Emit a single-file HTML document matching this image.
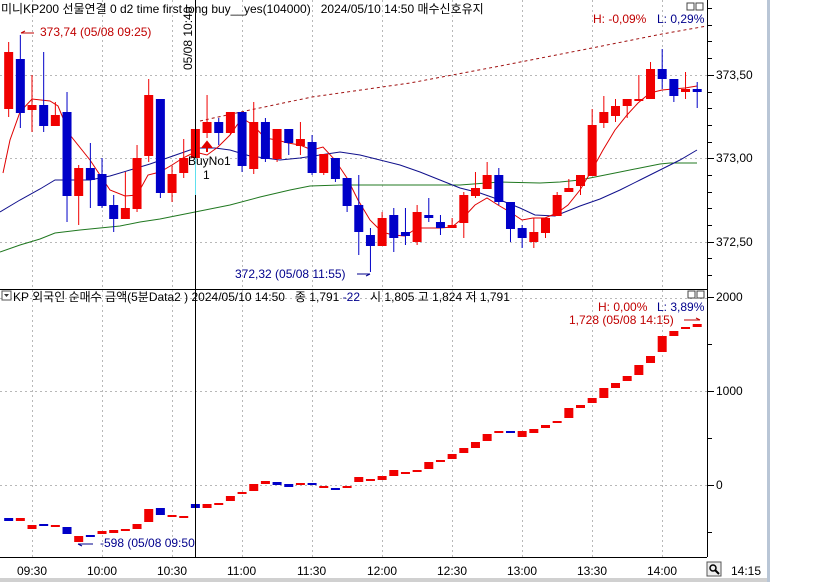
<!DOCTYPE html>
<html><head><meta charset="utf-8"><style>
html,body{margin:0;padding:0;background:#fff;width:819px;height:582px;overflow:hidden}
svg{display:block;font-family:"Liberation Sans","Noto Sans CJK KR",sans-serif;font-size:12px}
text{white-space:pre}
</style></head><body>
<svg id="s" width="819" height="582" viewBox="0 0 819 582" xmlns="http://www.w3.org/2000/svg">
<rect x="0" y="0" width="819" height="582" fill="#fff"/>
<g id="grid" stroke="#b8b8b8" stroke-dasharray="2,3" stroke-width="1"></g>
<g id="ma" fill="none" stroke-width="1"></g>
<g id="c1"></g>
<g id="c2"></g>
<line x1="707.5" y1="0" x2="707.5" y2="557" stroke="#000"/>
<line x1="0" y1="289.5" x2="707" y2="289.5" stroke="#000"/>
<line x1="0" y1="557.5" x2="707" y2="557.5" stroke="#000"/>
<line x1="195.5" y1="0" x2="195.5" y2="557" stroke="#000"/>
<line x1="195.5" y1="158" x2="195.5" y2="195" stroke="#5ee0ee" stroke-width="1"/>
<g id="ticks" stroke="#000"></g>
<rect x="767" y="0" width="3" height="582" fill="#b9c6d6"/>
<rect x="0" y="578" width="767" height="4" fill="#d0d0d0"/>
<text x="1" y="13" fill="#000">미니KP200 선물연결 0 d2 time first long buy__yes(104000)   2024/05/10 14:50 매수신호유지</text>
<text transform="translate(192,70) rotate(-90)" fill="#000">05/08 10:40</text>
<text x="40" y="36" fill="#c00000">373,74 (05/08 09:25)</text>
<path d="M21 33 H34 M21 33 l4 -2" stroke="#c00000" fill="none"/>
<text x="593" y="23" fill="#c00000">H: -0,09%</text>
<text x="657" y="23" fill="#00008c">L: 0,29%</text>
<rect x="687" y="3" width="7" height="7" fill="#fff" stroke="#444"/><rect x="696" y="3" width="7" height="7" fill="#fff" stroke="#444"/>
<text x="235" y="278" fill="#00008c">372,32 (05/08 11:55)</text>
<path d="M357 274 H370 M370 274 l-4 2" stroke="#00008c" fill="none"/>
<text x="188" y="165" fill="#000">BuyNo1</text>
<text x="203" y="179" fill="#000">1</text>
<path d="M207 152 V146 M203 147 L207 142 L211 147 Z" stroke="#e00000" fill="#e00000" stroke-width="2"/>
<text x="716" y="79">373,50</text>
<text x="716" y="162">373,00</text>
<text x="716" y="246">372,50</text>
<rect x="2" y="291" width="9" height="9" fill="#fff" stroke="#555"/><path d="M4 294 L9 294 L6.5 297 Z" fill="#333"/>
<text x="13" y="301" fill="#000">KP 외국인 순매수 금액(5분Data2 ) 2024/05/10 14:50   종 1,791 <tspan fill="#00008c">-22</tspan>   시 1,805 고 1,824 저 1,791</text>
<rect x="688" y="291" width="7" height="7" fill="#fff" stroke="#444"/><rect x="697" y="291" width="7" height="7" fill="#fff" stroke="#444"/>
<text x="598" y="311" fill="#c00000">H: 0,00%</text>
<text x="657" y="311" fill="#00008c">L: 3,89%</text>
<text x="569" y="324" fill="#c00000">1,728 (05/08 14:15)</text>
<path d="M684 320 H700 M700 320 l-4 -2" stroke="#c00000" fill="none"/>
<text x="100" y="547" fill="#00008c">-598 (05/08 09:50</text>
<path d="M78 544 H93 M78 544 l4 2" stroke="#00008c" fill="none"/>
<text x="716" y="301">2000</text>
<text x="716" y="395">1000</text>
<text x="716" y="489">0</text>
<text x="17" y="575">09:30</text><text x="87" y="575">10:00</text><text x="157" y="575">10:30</text>
<text x="227" y="575">11:00</text><text x="297" y="575">11:30</text><text x="367" y="575">12:00</text>
<text x="437" y="575">12:30</text><text x="507" y="575">13:00</text><text x="577" y="575">13:30</text>
<text x="647" y="575">14:00</text><text x="731" y="575">14:15</text>
<rect x="707" y="562" width="14" height="14" fill="#eee" stroke="#555"/>
<circle cx="713" cy="568" r="3" fill="none" stroke="#000" stroke-width="1.5"/><path d="M715 570 L719 574" stroke="#000" stroke-width="2"/>
</svg>
<script>
var NS="http://www.w3.org/2000/svg";
function el(p,t,a){var e=document.createElementNS(NS,t);for(var k in a)e.setAttribute(k,a[k]);document.getElementById(p).appendChild(e);return e;}
[32,102,172,242,312,382,452,522,592,662].forEach(function(x){el("grid","line",{x1:x+.5,y1:0,x2:x+.5,y2:557});});
[75,158,242,298,391,485].forEach(function(y){el("grid","line",{x1:0,y1:y+.5,x2:707,y2:y+.5});});
for(var y=8;y<289;y+=16.7){var m=Math.abs(((y-75)/83.5)-Math.round((y-75)/83.5))<0.05;el("ticks","line",{x1:707,y1:Math.round(y)+.5,x2:m?714:712,y2:Math.round(y)+.5});}
[297,344,391,438,485,532].forEach(function(y,i){el("ticks","line",{x1:707,y1:y+.5,x2:i%2==0?714:712,y2:y+.5});});
var T=[[52,109,42,117,'r'],[59,113,35,128,'b'],[105,110,75,132,'r'],[105,126,52,132,'b'],[115,126,102,126,'r'],[112,196,92,222,'b'],[168,196,165,225,'r'],[168,180,143,208,'b'],[174,206,158,208,'b'],[205,219,195,232,'b'],
[208,219,172,219,'r'],[158,209,145,212,'r'],[95,156,79,162,'r'],[99,193,99,198,'b'],[174,193,166,202,'r'],[158,173,139,178,'r'],[129,158,129,158,'r'],[122,133,95,138,'r'],[122,133,118,145,'b'],[112,133,112,135,'r'],
[112,166,112,172,'b'],[122,169,102,174,'r'],[122,159,118,162,'b'],[129,159,129,162,'r'],[129,143,129,155,'b'],[139,146,122,155,'r'],[142,173,135,175,'b'],[154,173,154,175,'r'],[158,179,158,182,'b'],[178,206,178,212,'b'],
[205,232,175,255,'b'],[235,246,228,272,'b'],[218,246,212,246,'r'],[215,238,208,252,'b'],[232,236,208,245,'b'],[212,242,205,245,'r'],[215,218,198,222,'b'],[222,228,215,235,'b'],[225,228,218,228,'r'],[195,223,192,238,'r'],
[188,196,172,198,'r'],[175,189,162,189,'r'],[175,202,168,205,'b'],[202,229,202,242,'b'],[228,238,225,248,'b'],[232,242,218,248,'r'],[218,233,218,238,'r'],[195,216,192,216,'r'],[188,192,179,192,'r'],[175,186,175,195,'r'],
[125,176,109,176,'r'],[112,123,96,128,'r'],[106,116,99,122,'r'],[99,106,99,118,'r'],[99,100,75,100,'r'],[69,99,62,99,'r'],[69,79,49,89,'b'],[79,96,79,102,'b'],[89,92,72,99,'r'],[89,92,82,108,'b']];
var C={r:'#f00000',b:'#0000c8'};
function cx(i){return 8.67+i*11.67;}
T.forEach(function(c,i){var x=cx(i);var col=C[c[4]];
 el("c1","line",{x1:x,y1:c[2],x2:x,y2:c[3],stroke:col,"stroke-width":1});
 el("c1","rect",{x:x-4.5,y:c[0],width:9,height:Math.max(2,c[1]-c[0]),fill:col});});
var B=[[518,521,'b'],[518,521,'r'],[525,529,'r'],[524,526,'b'],[525,527,'r'],[527,534,'b'],[536,542,'r'],[535,537,'b'],[531,534,'r'],[530,533,'r'],
[529,530,'r'],[524,529,'r'],[509,522,'r'],[508,515,'b'],[515,516,'r'],[516,517,'r'],[504,508,'b'],[504,508,'r'],[503,505,'r'],[496,501,'r'],
[492,494,'r'],[484,491,'r'],[481,484,'r'],[482,485,'b'],[484,487,'b'],[483,485,'r'],[483,485,'b'],[486,488,'r'],[488,489,'b'],[486,488,'r'],
[477,482,'r'],[479,480,'r'],[476,480,'r'],[470,476,'r'],[472,474,'r'],[470,472,'r'],[462,469,'r'],[460,462,'r'],[454,459,'r'],[448,453,'r'],
[442,448,'r'],[434,441,'r'],[431,432,'r'],[431,433,'b'],[431,437,'r'],[429,433,'r'],[425,428,'r'],[421,423,'r'],[408,418,'r'],[405,408,'r'],
[398,403,'r'],[388,398,'r'],[383,388,'r'],[376,381,'r'],[365,375,'r'],[356,363,'r'],[336,352,'r'],[331,336,'r'],[327,328,'r'],[324,327,'r']];
B.forEach(function(c,i){var x=cx(i);el("c2","rect",{x:x-4.5,y:c[0],width:9,height:Math.max(2,c[1]-c[0]),fill:C[c[2]]});});
function pl(pts,col,dash){var a={points:pts.map(function(p){return p.join(',')}).join(' '),stroke:col,fill:"none"};if(dash)a["stroke-dasharray"]=dash;el("ma","polyline",a);}
pl([[0,252],[20,245],[40,239],[55,233],[80,230],[100,228],[120,226],[140,222],[160,219],[180,215],[200,211],[230,205],[260,197],[290,190],[310,186],[340,185],[380,185],[420,185],[460,185],[500,182],[540,183],[560,182],[580,180],[600,176],[620,172],[640,168],[660,164],[670,163],[697,163]],"#207820");
pl([[0,212],[20,200],[40,189],[55,180],[70,180],[90,180],[110,176],[130,170],[150,164],[170,157],[190,150],[200,148],[215,148],[230,150],[250,156],[265,158],[280,160],[300,158],[320,155],[340,152],[360,155],[380,160],[400,165],[420,172],[440,180],[460,188],[480,193],[500,200],[520,208],[535,215],[555,216],[580,206],[600,199],[620,190],[640,180],[660,170],[680,160],[697,150]],"#10108c");
pl([[3,173],[10,140],[20,112],[32,99],[50,101],[58,106],[70,135],[90,160],[110,190],[125,196],[137,195],[148,175],[160,172],[172,165],[183,158],[195,152],[207,155],[218,147],[230,135],[242,118],[253,125],[265,138],[277,140],[288,143],[300,145],[312,150],[323,147],[335,160],[347,178],[358,200],[370,220],[382,232],[393,235],[405,236],[417,228],[428,228],[440,228],[452,227],[463,218],[475,205],[487,198],[498,205],[510,212],[522,220],[533,218],[545,218],[557,213],[568,205],[580,190],[592,170],[603,150],[615,130],[627,115],[638,103],[650,93],[662,90],[673,89],[685,88],[697,86]],"#e00000");
pl([[200,121],[250,110],[312,97],[410,83],[500,66],[592,48],[662,34],[707,26]],"#a01010","3,3");
</script>
</body></html>
